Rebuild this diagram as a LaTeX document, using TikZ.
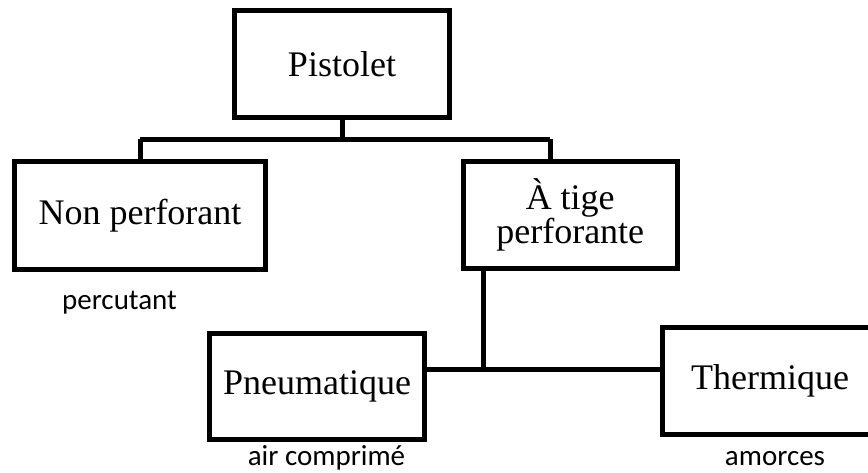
\documentclass[tikz,border=0pt]{standalone}
\usepackage{fontspec}
\setmainfont{Liberation Serif}
\newfontfamily\capfont{Carlito}
\begin{document}
\begin{tikzpicture}[x=1pt,y=-1pt,
  box/.style={draw=black,line width=5pt,fill=white,inner sep=0pt,
    minimum height=107pt,font=\fontsize{36}{33}\selectfont,align=center},
  link/.style={draw=black,line width=5pt,line cap=butt},
  caption/.style={anchor=base,inner sep=0pt,font=\capfont\fontsize{29}{32}\selectfont}]
  \clip (0,0) rectangle (868,473);
  \fill[white] (0,0) rectangle (868,473);

  % boxes
  \node[box,minimum width=215pt] (pis) at (342,64) {Pistolet};
  \node[box,minimum width=251pt,minimum height=108pt] (np) at (140,215.5) {Non perforant};
  \node[box,minimum width=214.5pt] (at) at (570.25,215) {À tige\\perforante};
  \node[box,minimum width=215pt,minimum height=106pt] (pn) at (317,386.5) {Pneumatique};
  \node[box,minimum width=215pt] (th) at (770,381) {Thermique};

  % junction points of the tree
  \coordinate (busL) at (140,139.5);
  \coordinate (busR) at (550,139.5);
  \coordinate (stem) at (483.5,369.5);

  % upper level
  \draw[link] (busL) -- (busR);
  \draw[link] (pis.south) -- (pis.south |- busL);
  \draw[link] (busL) -- (np.north);
  \draw[link] (busR) -- (busR |- at.north);

  % lower level
  \draw[link] (stem |- at.south) -- (stem);
  \draw[link] (pn.east |- stem) -- (th.west |- stem);

  % captions
  \node[caption] (c1) at (119.5,309) {percutant};
  \node[caption] (c2) at (326.5,465) {air comprimé};
  \node[caption] (c3) at (775,465) {amorces};
\end{tikzpicture}
\end{document}
